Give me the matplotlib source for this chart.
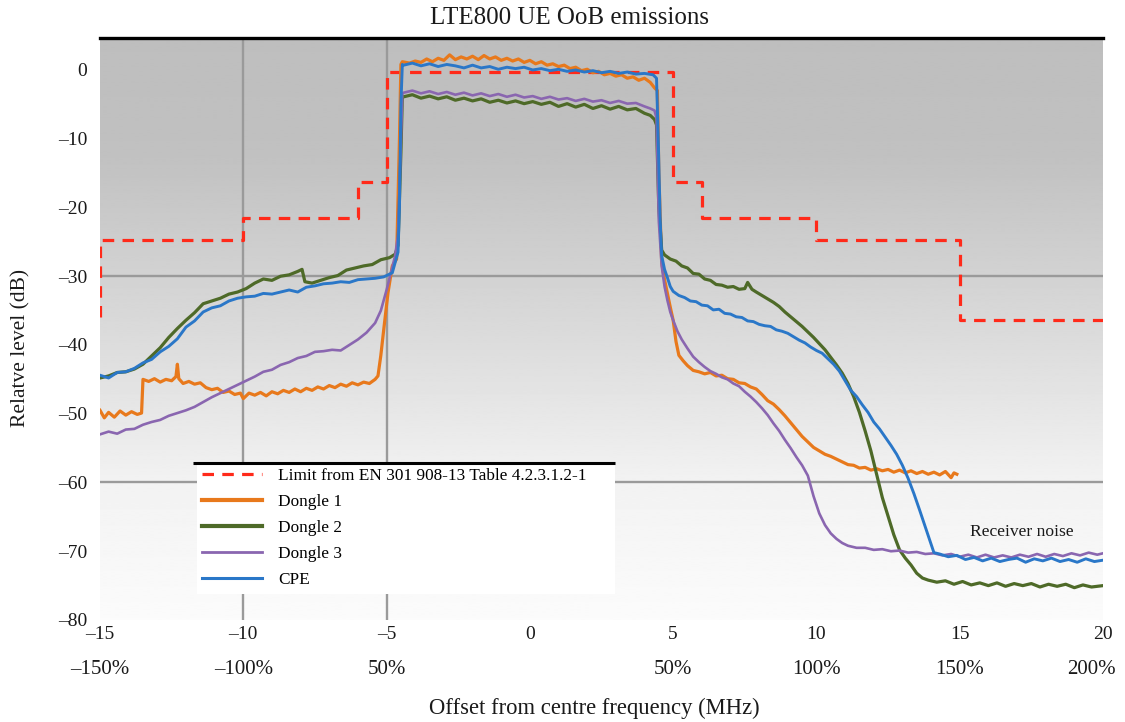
import numpy as np
import matplotlib
matplotlib.use("Agg")
import matplotlib.pyplot as plt

plt.rcParams["font.family"] = ["Liberation Serif", "DejaVu Serif"]

# Limit mask from EN 301 908-13 (step outline)
LIMIT_X = [-15, -15, -10, -10, -6, -6, -5, -5, 5, 5, 6, 6, 10, 10, 15, 15, 20]
LIMIT_Y = [-36.0, -24.7, -24.7, -21.5, -21.5, -16.3, -16.3, -0.3, -0.3,
           -16.3, -16.3, -21.5, -21.5, -24.7, -24.7, -36.4, -36.4]

# Measured traces, (offset MHz, relative level dB)
DONGLE1 = [
    (-15.0, -49.5), (-14.85, -50.6), (-14.7, -49.8), (-14.5, -50.5), (-14.3, -49.6),
    (-14.1, -50.2), (-13.9, -49.7), (-13.7, -50.1), (-13.55, -49.9), (-13.5, -45.0),
    (-13.3, -45.3), (-13.1, -44.9), (-12.9, -45.4), (-12.7, -45.0), (-12.5, -45.2),
    (-12.35, -44.6), (-12.3, -42.8), (-12.25, -44.9), (-12.1, -45.6), (-11.9, -45.3),
    (-11.7, -45.7), (-11.5, -45.5), (-11.3, -46.2), (-11.1, -46.5), (-10.9, -46.3),
    (-10.7, -46.9), (-10.5, -46.7), (-10.3, -47.2), (-10.1, -47.0), (-10.0, -47.8),
    (-9.8, -47.0), (-9.6, -47.3), (-9.4, -46.9), (-9.2, -47.4), (-9.0, -46.8),
    (-8.8, -47.1), (-8.6, -46.6), (-8.4, -46.9), (-8.2, -46.4), (-8.0, -46.8),
    (-7.8, -46.3), (-7.6, -46.6), (-7.4, -46.1), (-7.2, -46.4), (-7.0, -45.9),
    (-6.8, -46.2), (-6.6, -45.7), (-6.4, -46.0), (-6.2, -45.5), (-6.0, -45.8),
    (-5.8, -45.4), (-5.6, -45.6), (-5.4, -45.0), (-5.3, -44.5), (-5.2, -41.5),
    (-5.1, -37.8), (-4.95, -32.4), (-4.8, -28.5), (-4.65, -27.5), (-4.55, -10.0),
    (-4.5, 0.8), (-4.45, 1.2), (-4.2, 1.0), (-4.0, 1.3), (-3.8, 1.1), (-3.6, 1.6),
    (-3.4, 1.2), (-3.2, 1.7), (-3.0, 1.4), (-2.8, 2.2), (-2.6, 1.5), (-2.4, 1.9),
    (-2.2, 1.6), (-2.0, 2.0), (-1.8, 1.5), (-1.6, 2.1), (-1.4, 1.6), (-1.2, 1.9),
    (-1.0, 1.4), (-0.8, 1.7), (-0.6, 1.3), (-0.4, 1.6), (-0.2, 1.1), (0.0, 1.4),
    (0.2, 0.9), (0.4, 1.2), (0.6, 0.7), (0.8, 0.9), (1.0, 0.5), (1.2, 0.7),
    (1.4, 0.2), (1.6, 0.4), (1.8, -0.1), (2.0, 0.1), (2.2, -0.4), (2.4, -0.2),
    (2.6, -0.7), (2.8, -0.5), (3.0, -0.9), (3.2, -0.7), (3.4, -1.2), (3.6, -1.0),
    (3.8, -1.5), (4.0, -1.2), (4.2, -1.8), (4.35, -2.6), (4.45, -3.0), (4.5, -15.0),
    (4.6, -28.0), (4.7, -30.5), (4.8, -32.5), (4.9, -34.5), (5.0, -36.4),
    (5.1, -39.5), (5.2, -41.5), (5.35, -42.3), (5.5, -43.0), (5.7, -43.7),
    (5.9, -43.9), (6.1, -44.2), (6.3, -44.0), (6.5, -44.5), (6.7, -44.4),
    (6.9, -44.9), (7.1, -45.0), (7.3, -45.5), (7.5, -45.6), (7.7, -46.1),
    (7.9, -46.4), (8.1, -47.2), (8.3, -48.1), (8.5, -48.6), (8.7, -49.4),
    (8.9, -50.3), (9.1, -51.3), (9.3, -52.3), (9.5, -53.3), (9.7, -54.1),
    (9.9, -54.9), (10.1, -55.4), (10.3, -55.9), (10.5, -56.2), (10.7, -56.6),
    (10.9, -57.0), (11.1, -57.4), (11.3, -57.5), (11.5, -57.9), (11.7, -57.8),
    (11.9, -58.2), (12.1, -58.0), (12.3, -58.3), (12.5, -58.1), (12.7, -58.5),
    (12.9, -58.2), (13.1, -58.6), (13.3, -58.3), (13.5, -58.7), (13.7, -58.4),
    (13.9, -58.8), (14.1, -58.5), (14.3, -58.9), (14.5, -58.4), (14.7, -59.3),
    (14.8, -58.6), (14.9, -58.8),
]

DONGLE2 = [
    (-15.0, -44.8), (-14.7, -44.5), (-14.4, -44.0), (-14.1, -43.9), (-13.8, -43.5),
    (-13.5, -42.8), (-13.2, -41.6), (-12.9, -40.4), (-12.6, -38.9), (-12.3, -37.6),
    (-12.0, -36.4), (-11.7, -35.3), (-11.4, -34.0), (-11.1, -33.6), (-10.8, -33.2),
    (-10.5, -32.6), (-10.2, -32.3), (-9.9, -31.8), (-9.6, -31.0), (-9.3, -30.4),
    (-9.0, -30.6), (-8.7, -30.0), (-8.4, -29.8), (-8.1, -29.3), (-7.95, -29.0),
    (-7.85, -30.8), (-7.6, -31.0), (-7.3, -30.6), (-7.0, -30.2), (-6.7, -29.9),
    (-6.4, -29.1), (-6.1, -28.8), (-5.8, -28.5), (-5.5, -28.3), (-5.2, -27.6),
    (-4.9, -27.3), (-4.7, -26.8), (-4.6, -25.5), (-4.5, -12.0), (-4.45, -3.8),
    (-4.4, -3.9), (-4.1, -3.6), (-3.8, -4.1), (-3.5, -3.8), (-3.2, -4.2),
    (-2.9, -3.9), (-2.6, -4.4), (-2.3, -4.1), (-2.0, -4.5), (-1.7, -4.2),
    (-1.4, -4.7), (-1.1, -4.4), (-0.8, -4.8), (-0.5, -4.5), (-0.2, -4.9),
    (0.1, -4.6), (0.4, -5.0), (0.7, -4.7), (1.0, -5.3), (1.3, -4.9),
    (1.6, -5.4), (1.9, -5.0), (2.2, -5.6), (2.5, -5.2), (2.8, -5.7),
    (3.1, -5.3), (3.4, -5.8), (3.7, -5.6), (4.0, -6.3), (4.2, -6.6),
    (4.35, -7.2), (4.42, -8.0), (4.5, -20.0), (4.6, -26.2), (4.7, -26.9),
    (4.9, -27.5), (5.1, -27.8), (5.3, -28.5), (5.5, -28.8), (5.7, -29.6),
    (5.9, -29.7), (6.1, -30.4), (6.3, -30.6), (6.5, -31.2), (6.7, -31.3),
    (6.9, -31.6), (7.1, -31.5), (7.3, -31.9), (7.5, -31.8), (7.6, -30.9),
    (7.75, -31.9), (7.9, -32.3), (8.1, -32.8), (8.3, -33.3), (8.5, -33.8),
    (8.7, -34.4), (8.9, -35.2), (9.1, -35.9), (9.3, -36.6), (9.5, -37.3),
    (9.7, -38.1), (9.9, -38.9), (10.1, -39.8), (10.3, -40.7), (10.5, -41.8),
    (10.7, -42.9), (10.9, -44.1), (11.1, -45.6), (11.3, -47.5), (11.5, -49.8),
    (11.7, -52.5), (11.9, -55.4), (12.1, -58.8), (12.3, -62.2), (12.5, -64.9),
    (12.7, -67.6), (12.9, -69.8), (13.1, -71.0), (13.3, -72.0), (13.5, -73.2),
    (13.7, -73.9), (13.9, -74.2), (14.2, -74.5), (14.5, -74.3), (14.8, -74.8),
    (15.1, -74.4), (15.4, -74.9), (15.7, -74.6), (16.0, -75.0), (16.3, -74.6),
    (16.6, -75.1), (16.9, -74.7), (17.2, -75.0), (17.5, -74.7), (17.8, -75.2),
    (18.1, -74.8), (18.4, -75.1), (18.7, -74.8), (19.0, -75.3), (19.3, -74.9),
    (19.6, -75.2), (20.0, -75.0),
]

DONGLE3 = [
    (-15.0, -53.0), (-14.7, -52.6), (-14.4, -52.9), (-14.1, -52.3), (-13.8, -52.2),
    (-13.5, -51.6), (-13.2, -51.2), (-12.9, -50.9), (-12.6, -50.3), (-12.3, -49.9),
    (-12.0, -49.5), (-11.7, -49.0), (-11.4, -48.3), (-11.1, -47.6), (-10.8, -47.0),
    (-10.5, -46.4), (-10.2, -45.8), (-9.9, -45.2), (-9.6, -44.6), (-9.3, -43.9),
    (-9.0, -43.6), (-8.7, -42.9), (-8.4, -42.5), (-8.1, -41.9), (-7.8, -41.6),
    (-7.5, -41.0), (-7.2, -40.9), (-6.9, -40.7), (-6.6, -40.8), (-6.3, -40.0),
    (-6.0, -39.2), (-5.7, -38.2), (-5.4, -36.8), (-5.2, -35.0), (-5.0, -32.0),
    (-4.85, -29.5), (-4.7, -27.0), (-4.6, -24.0), (-4.5, -10.0), (-4.45, -3.4),
    (-4.4, -3.3), (-4.1, -3.0), (-3.8, -3.4), (-3.5, -3.1), (-3.2, -3.5),
    (-2.9, -3.2), (-2.6, -3.6), (-2.3, -3.3), (-2.0, -3.7), (-1.7, -3.4),
    (-1.4, -3.8), (-1.1, -3.5), (-0.8, -3.9), (-0.5, -3.6), (-0.2, -4.0),
    (0.1, -3.8), (0.4, -4.2), (0.7, -3.9), (1.0, -4.3), (1.3, -4.1),
    (1.6, -4.5), (1.9, -4.2), (2.2, -4.6), (2.5, -4.4), (2.8, -4.8),
    (3.1, -4.5), (3.4, -4.9), (3.7, -4.8), (4.0, -5.3), (4.2, -5.6),
    (4.35, -5.9), (4.42, -7.0), (4.5, -22.0), (4.6, -28.5), (4.7, -31.5),
    (4.8, -33.5), (4.9, -35.2), (5.0, -36.4), (5.15, -38.0), (5.3, -39.2),
    (5.5, -40.5), (5.7, -41.7), (5.9, -42.5), (6.1, -43.2), (6.3, -43.8),
    (6.5, -44.2), (6.7, -44.7), (6.9, -45.0), (7.1, -45.6), (7.3, -46.0),
    (7.5, -46.8), (7.7, -47.5), (7.9, -48.3), (8.1, -49.2), (8.3, -50.2),
    (8.5, -51.4), (8.7, -52.5), (8.9, -53.8), (9.1, -55.0), (9.3, -56.3),
    (9.5, -57.5), (9.7, -59.0), (9.9, -62.0), (10.1, -64.5), (10.3, -66.2),
    (10.5, -67.4), (10.7, -68.2), (10.9, -68.8), (11.1, -69.2), (11.4, -69.5),
    (11.7, -69.5), (12.0, -69.8), (12.3, -69.7), (12.6, -70.0), (12.9, -69.9),
    (13.2, -70.2), (13.5, -70.1), (13.8, -70.4), (14.1, -70.3), (14.4, -70.6),
    (14.7, -70.4), (15.0, -70.8), (15.3, -70.5), (15.6, -70.9), (15.9, -70.5),
    (16.2, -70.9), (16.5, -70.6), (16.8, -70.9), (17.1, -70.5), (17.4, -70.8),
    (17.7, -70.4), (18.0, -70.8), (18.3, -70.4), (18.6, -70.7), (18.9, -70.3),
    (19.2, -70.6), (19.5, -70.2), (19.8, -70.5), (20.0, -70.3),
]

CPE = [
    (-15.0, -44.4), (-14.7, -44.8), (-14.4, -44.0), (-14.1, -43.9), (-13.8, -43.4),
    (-13.5, -42.6), (-13.2, -42.1), (-12.9, -41.0), (-12.6, -40.2), (-12.3, -39.1),
    (-12.0, -37.4), (-11.7, -36.5), (-11.4, -35.2), (-11.1, -34.6), (-10.8, -34.3),
    (-10.5, -33.6), (-10.2, -33.2), (-9.9, -33.0), (-9.6, -32.9), (-9.3, -32.5),
    (-9.0, -32.6), (-8.7, -32.3), (-8.4, -32.0), (-8.1, -32.3), (-7.8, -31.6),
    (-7.5, -31.4), (-7.2, -31.1), (-6.9, -31.0), (-6.6, -30.8), (-6.3, -30.9),
    (-6.0, -30.5), (-5.7, -30.4), (-5.4, -30.3), (-5.1, -30.1), (-4.8, -29.5),
    (-4.7, -28.0), (-4.6, -26.5), (-4.55, -20.0), (-4.5, -5.0), (-4.45, 0.8),
    (-4.4, 0.7), (-4.1, 1.0), (-3.8, 0.6), (-3.5, 0.9), (-3.2, 0.5),
    (-2.9, 0.8), (-2.6, 0.6), (-2.3, 0.3), (-2.0, 0.7), (-1.7, 0.3),
    (-1.4, 0.5), (-1.1, 0.1), (-0.8, 0.4), (-0.5, 0.2), (-0.2, 0.4),
    (0.1, 0.0), (0.4, 0.2), (0.7, -0.1), (1.0, 0.1), (1.3, -0.2),
    (1.6, 0.0), (1.9, -0.3), (2.2, -0.1), (2.5, -0.4), (2.8, -0.2),
    (3.1, -0.5), (3.4, -0.3), (3.7, -0.6), (4.0, -0.5), (4.3, -0.7),
    (4.42, -1.2), (4.48, -10.0), (4.55, -22.0), (4.6, -27.0), (4.7, -29.0),
    (4.8, -30.2), (4.9, -31.5), (5.0, -32.2), (5.2, -32.8), (5.4, -33.1),
    (5.6, -33.6), (5.8, -33.7), (6.0, -34.2), (6.2, -34.3), (6.4, -34.9),
    (6.6, -34.8), (6.8, -35.4), (7.0, -35.5), (7.2, -35.9), (7.4, -36.0),
    (7.6, -36.5), (7.8, -36.6), (8.0, -37.0), (8.2, -37.2), (8.4, -37.3),
    (8.6, -37.8), (8.8, -38.0), (9.0, -38.3), (9.2, -38.8), (9.4, -39.3),
    (9.6, -39.7), (9.8, -40.3), (10.0, -40.8), (10.2, -41.2), (10.4, -42.0),
    (10.6, -42.8), (10.8, -43.8), (11.0, -45.2), (11.2, -46.6), (11.4, -47.5),
    (11.6, -48.7), (11.8, -49.8), (12.0, -51.2), (12.2, -52.2), (12.4, -53.4),
    (12.6, -54.6), (12.8, -55.9), (13.0, -57.5), (13.2, -59.4), (13.4, -61.6),
    (13.6, -64.0), (13.8, -66.5), (14.0, -69.0), (14.1, -70.2), (14.3, -70.4),
    (14.6, -70.8), (14.9, -70.6), (15.2, -71.2), (15.5, -70.9), (15.8, -71.4),
    (16.1, -71.0), (16.4, -71.5), (16.7, -71.2), (17.0, -71.0), (17.3, -71.6),
    (17.6, -71.1), (17.9, -71.4), (18.2, -71.0), (18.5, -71.5), (18.8, -71.2),
    (19.1, -71.6), (19.4, -71.1), (19.7, -71.5), (20.0, -71.3),
]

XTICKS = [-15, -10, -5, 0, 5, 10, 15, 20]
XTICK_LABELS = ["\u201315", "\u201310", "\u20135", "0", "5", "10", "15", "20"]
PCT_LABELS = ["\u2013150%", "\u2013100%", "50%", "", "50%", "100%", "150%", "200%"]
YTICKS = [0, -10, -20, -30, -40, -50, -60, -70, -80]
YTICK_LABELS = ["0"] + ["\u2013%d" % -v for v in YTICKS[1:]]
GRID_X = [-10, -5]
GRID_Y = [-30, -60]

YMIN, YMAX = -80, 4.65
XMIN, XMAX = -15, 20
INK = "#1a1a1a"

fig = plt.figure(figsize=(11.25, 7.22), dpi=100, facecolor="white")
ax = fig.add_axes([100 / 1125, 1 - 620 / 722, 1003 / 1125, 582 / 722])

# vertical grey-to-white shading behind the traces
shade_levels = [YMAX, -12, -30, -45, -60, YMIN]
shade_values = [0.745, 0.755, 0.825, 0.885, 0.95, 0.985]
rows = np.linspace(YMAX, YMIN, 400)
shade = np.interp(rows, shade_levels[::-1], shade_values[::-1])[:, None]
ax.imshow(shade, cmap="gray", vmin=0, vmax=1, aspect="auto",
          extent=(XMIN, XMAX, YMIN, YMAX), zorder=0, interpolation="bilinear")

for gx in GRID_X:
    ax.axvline(gx, color="#9a9a9a", lw=1.7, zorder=1)
for gy in GRID_Y:
    ax.axhline(gy, color="#9a9a9a", lw=1.7, zorder=1)

ax.plot(LIMIT_X, LIMIT_Y, color="#ff2a1a", lw=2.3, linestyle=(0, (3.6, 2.6)),
        label="Limit from EN 301 908-13 Table 4.2.3.1.2-1", zorder=3)

series = [
    (DONGLE1, "Dongle 1", "#e8791c", 2.3),
    (DONGLE2, "Dongle 2", "#4e6a28", 2.3),
    (DONGLE3, "Dongle 3", "#8a66b0", 1.9),
    (CPE, "CPE", "#2a77c8", 2.1),
]
for pts, name, color, lw in series:
    xs, ys = zip(*pts)
    ax.plot(xs, ys, color=color, lw=lw, label=name, zorder=3,
            solid_joinstyle="round")

ax.text(15.36, -67.2, "Receiver noise", fontsize=12.6, ha="left", va="center",
        color=INK, zorder=4)

ax.set_xlim(XMIN, XMAX)
ax.set_ylim(YMIN, YMAX)

ax.set_xticks(XTICKS, labels=XTICK_LABELS)
ax.set_yticks(YTICKS, labels=YTICK_LABELS)
ax.tick_params(length=0, labelsize=14, colors=INK)
ax.tick_params(axis="x", pad=4)
ax.tick_params(axis="y", pad=9)

for side in ("left", "right", "bottom"):
    ax.spines[side].set_visible(False)
ax.spines["top"].set_color("black")
ax.spines["top"].set_linewidth(2.4)

# second row of x labels: offset as a share of the channel bandwidth;
# the last one is pulled in so it stays inside the figure
for i, (xv, lab) in enumerate(zip(XTICKS, PCT_LABELS)):
    dx = -12 if i == len(XTICKS) - 1 else 0
    ax.annotate(lab, xy=(xv, 0), xycoords=("data", "axes fraction"),
                xytext=(dx, -50), textcoords="offset pixels",
                ha="center", va="center", fontsize=15, color=INK,
                annotation_clip=False)

ax.set_ylabel("Relatve level (dB)", fontsize=15.5, color=INK)
ax.yaxis.set_label_coords(-0.069, 0.467)
ax.set_xlabel("Offset from centre frequency (MHz)", fontsize=16.3, color=INK)
ax.xaxis.set_label_coords(0.4925, -0.133)

fig.text(570 / 1125, 1 - 18 / 722, "LTE800 UE OoB emissions", fontsize=18,
         ha="center", va="center", color=INK)

top = (620 - 463) / 582
leg_box = (97 / 1003, 0.035, 418 / 1003, top - 0.035)
leg = ax.legend(loc="upper left", bbox_to_anchor=leg_box, mode="expand",
                borderaxespad=0, fontsize=12.4, frameon=True, fancybox=False,
                framealpha=1, facecolor="white", edgecolor="none",
                handlelength=3.5, handletextpad=0.9, labelspacing=0.58,
                borderpad=0.3)
leg.set_zorder(5)
# dongle 1 and 2 samples are drawn heavier in the key
for handle, lw in zip(leg.get_lines(), [2.3, 3.0, 3.0, 2.0, 2.2]):
    handle.set_linewidth(lw)
ax.plot([93 / 1003, 515 / 1003], [top, top], transform=ax.transAxes,
        color="black", lw=2.2, zorder=6, solid_capstyle="butt", clip_on=False)

fig.savefig("out.png", dpi=100, facecolor="white")
